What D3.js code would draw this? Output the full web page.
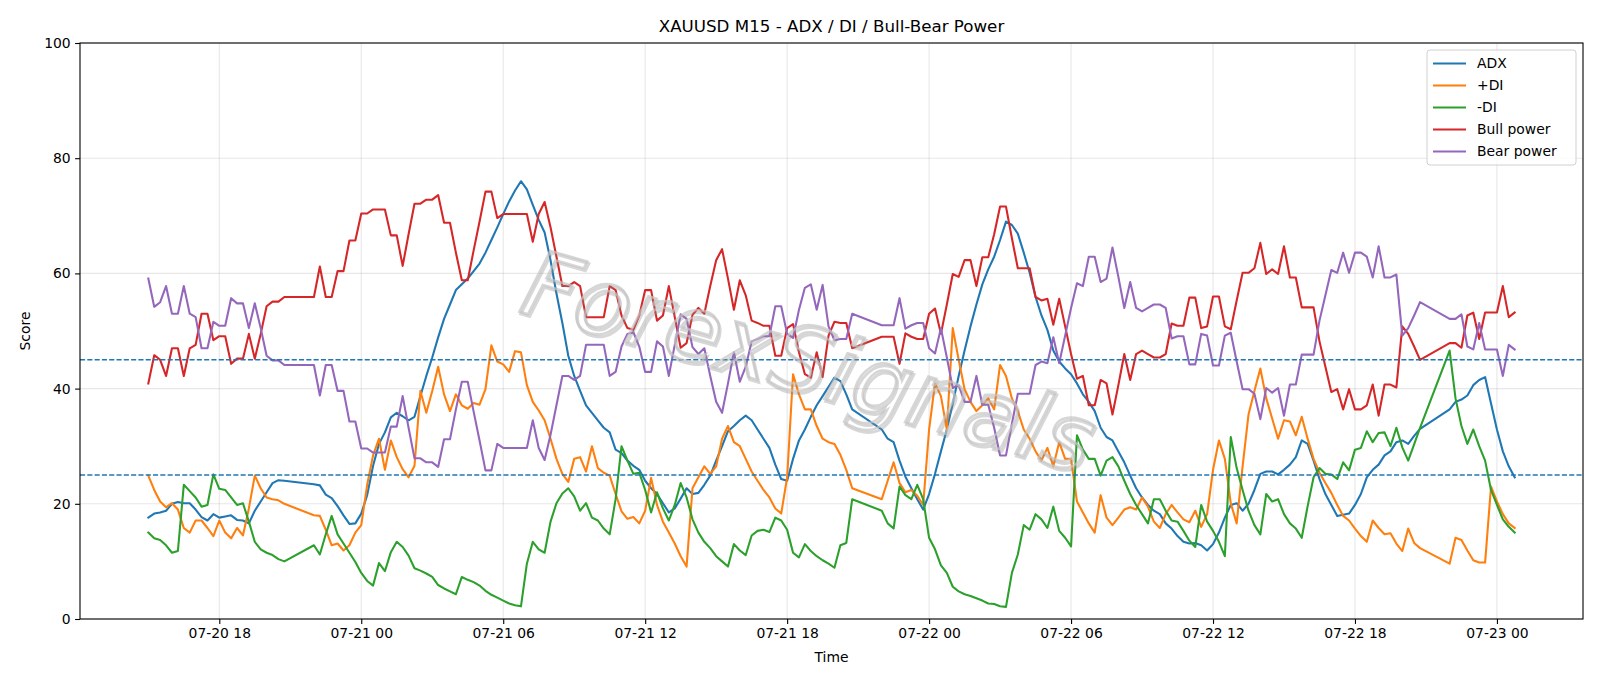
<!DOCTYPE html>
<html>
<head>
<meta charset="utf-8">
<title>XAUUSD M15 - ADX / DI / Bull-Bear Power</title>
<script src="https://cdn.jsdelivr.net/npm/d3@7"></script>
<style>
    body { margin: 0; background: #fff; }
    svg { display: block; font-family: "DejaVu Sans", sans-serif; }
    .grid line { stroke: #b0b0b0; stroke-opacity: 0.3; stroke-width: 1.1; }
    .axis text { font-size: 13.9px; fill: #000; font-family: "DejaVu Sans", sans-serif; }
    .axis line { stroke: #000; stroke-width: 1.1; }
    .axis path { display: none; }
    .series { fill: none; stroke-width: 2.08; stroke-linejoin: round; stroke-linecap: square; }
</style>
</head>
<body>
<div id="chart"></div>
<script>
'use strict';

// 15 minute bars starting 2025-07-20 15:00, null = bar missing from the feed
const startTime = new Date(2025, 6, 20, 15, 0);
const barMinutes = 15;

const seriesNames = ['ADX', '+DI', '-DI', 'Bull power', 'Bear power'];
const levels = [45, 25];
const yTicks = [0, 20, 40, 60, 80, 100];

const adx = [
    17.6, 18.3, 18.5, 18.8, 20.0, 20.3, 20.1, 20.1, 19.0, 17.7,
    17.1, 18.2, 17.6, 17.8, 18.0, 17.2, 17.1, 16.6, 18.8, 20.4,
    22.0, 23.6, 24.1, 24.0, null, null, null, null, 23.4, 23.2,
    21.6, 21.0, 19.6, 18.0, 16.5, 16.6, 18.3, 21.5, 26.6, 30.4,
    32.4, 35.0, 35.8, 35.2, 34.5, 35.1, 38.7, 42.2, 45.4, 48.9,
    52.1, 54.6, 57.1, 58.1, 59.1, 60.4, 61.7, 63.6, 65.8, 68.0,
    70.3, 72.5, 74.4, 76.0, 74.6, 71.9, 69.3, 67.1, 62.3, 56.5,
    51.4, 45.7, 42.2, 39.6, 37.1, 35.8, 34.5, 33.2, 32.4, 29.4,
    28.8, 27.5, 26.6, 25.9, 24.0, 22.7, 21.7, 20.1, 18.5, 19.2,
    20.9, 22.7, 21.7, 21.9, 23.3, 24.9, 27.5, 30.0, 32.6, 33.5,
    34.5, 35.3, 34.5, 32.9, 31.3, 29.7, 26.8, 24.3, 24.0, 27.8,
    31.0, 32.9, 35.1, 37.1, 38.7, 40.3, 41.9, 41.3, 39.0, 36.4,
    null, null, null, null, 32.9, 31.3, 30.7, 27.5, 24.7, 22.7,
    20.8, 19.0, 21.7, 25.2, 29.1, 32.9, 37.4, 42.2, 46.6, 50.8,
    54.6, 58.1, 60.7, 62.9, 65.8, 69.0, 68.4, 66.9, 63.6, 60.1,
    55.9, 52.7, 50.2, 46.6, 44.7, 43.5, 42.5, 40.9, 39.0, 37.7,
    36.1, 33.2, 31.6, 31.0, 29.1, 27.2, 24.9, 22.7, 21.1, 19.8,
    18.8, 18.2, 16.6, 15.7, 14.4, 13.4, 13.1, 13.2, 12.8, 11.9,
    13.0, 15.0, 17.6, 19.8, 20.1, 18.8, 20.0, 22.4, 25.2, 25.6,
    25.6, 25.1, 25.9, 26.8, 28.1, 31.0, 30.4, 27.5, 24.3, 21.7,
    19.8, 17.9, 18.1, 18.3, 19.8, 21.7, 24.6, 25.9, 26.8, 28.4,
    29.1, 30.7, 31.0, 30.4, 31.8, 33.0, null, null, null, null,
    36.4, 37.7, 38.1, 38.8, 40.6, 41.5, 42.0, 37.4, 32.9, 29.1,
    26.5, 24.6
];

const plusDI = [
    24.9, 22.4, 20.4, 19.4, 20.1, 19.0, 15.8, 15.0, 17.1, 17.1,
    15.8, 14.4, 17.1, 15.0, 14.0, 15.8, 14.5, 19.2, 24.9, 22.7,
    21.1, 20.8, 20.6, 20.0, null, null, null, null, 18.0, 17.9,
    15.5, 12.8, 13.1, 11.9, 12.8, 15.0, 16.3, 23.3, 28.4, 31.3,
    25.9, 31.0, 28.1, 26.0, 24.6, 26.6, 39.6, 35.8, 39.6, 43.8,
    39.0, 36.1, 39.0, 37.1, 36.5, 37.5, 37.2, 39.9, 47.5, 44.7,
    44.2, 42.9, 46.5, 46.3, 40.6, 37.7, 36.2, 34.5, 31.3, 27.8,
    25.2, 23.8, 27.8, 28.1, 25.6, 30.0, 26.2, 25.4, 24.9, 21.7,
    18.7, 17.4, 17.7, 16.6, 18.8, 24.5, 19.8, 16.9, 15.0, 13.1,
    10.9, 9.1, 22.7, 24.6, 26.5, 25.2, 26.5, 31.3, 33.5, 30.7,
    30.0, 27.8, 25.6, 24.0, 22.4, 21.1, 19.2, 18.3, 24.6, 42.5,
    39.0, 36.4, 36.4, 33.5, 31.3, 30.7, 30.4, 28.5, 25.9, 22.7,
    null, null, null, null, 20.8, 24.0, 27.2, 23.6, 22.0, 22.4,
    21.4, 19.8, 32.9, 40.9, 38.7, 32.9, 50.5, 45.0, 39.9, 37.7,
    36.1, 37.1, 38.3, 36.4, 44.1, 42.2, 38.3, 36.1, 32.9, 31.3,
    29.1, 27.5, 29.7, 26.5, 30.7, 27.8, 27.8, 20.4, 18.5, 16.6,
    15.0, 21.5, 17.6, 16.3, 17.6, 19.0, 19.4, 19.0, 21.1, 19.5,
    16.9, 15.8, 18.2, 19.8, 18.5, 17.3, 16.8, 18.8, 16.0, 18.2,
    25.9, 31.0, 27.8, 20.1, 16.6, 26.5, 35.5, 39.6, 43.5, 38.3,
    34.8, 31.3, 34.5, 34.3, 31.9, 35.1, 31.3, 27.8, 25.4, 23.6,
    21.9, 19.8, 17.9, 17.1, 15.7, 14.4, 13.4, 17.1, 15.8, 14.7,
    14.9, 13.1, 11.8, 15.7, 13.2, 12.3, null, null, null, null,
    9.6, 14.1, 13.7, 11.9, 10.2, 9.8, 9.8, 23.0, 20.4, 18.2,
    16.6, 15.8
];

const minusDI = [
    15.0, 14.0, 13.7, 12.8, 11.5, 11.8, 23.3, 22.2, 21.1, 19.5,
    19.8, 25.1, 22.6, 22.4, 21.1, 19.8, 20.1, 16.9, 13.4, 12.1,
    11.5, 11.1, 10.4, 10.0, null, null, null, null, 12.8, 11.2,
    14.7, 17.9, 14.7, 13.1, 11.5, 9.9, 8.0, 6.6, 5.8, 9.7,
    8.3, 11.6, 13.4, 12.5, 11.0, 8.8, 8.4, 7.9, 7.3, 5.9,
    5.3, 4.8, 4.3, 7.3, 6.8, 6.4, 5.8, 4.9, 4.2, 3.7,
    3.2, 2.7, 2.4, 2.2, 9.6, 13.4, 12.1, 11.5, 16.9, 20.1,
    21.8, 22.7, 21.3, 18.8, 20.1, 17.6, 17.1, 15.7, 14.7, 20.8,
    30.0, 27.5, 25.2, 25.4, 22.4, 18.5, 22.0, 19.2, 17.1, 19.8,
    23.6, 21.1, 17.3, 15.0, 13.4, 12.3, 10.9, 10.0, 9.1, 13.0,
    11.9, 11.1, 14.5, 15.3, 15.5, 15.1, 17.6, 17.1, 15.5, 11.5,
    10.7, 13.0, 11.8, 10.9, 10.2, 9.6, 8.9, 12.8, 13.2, 20.8,
    null, null, null, null, 18.8, 16.6, 15.7, 23.0, 21.5, 20.8,
    23.3, 20.8, 14.1, 12.1, 9.3, 8.0, 5.6, 4.8, 4.3, 4.0,
    3.6, 3.2, 2.7, 2.6, 2.2, 2.1, 8.0, 11.2, 16.3, 15.5,
    18.2, 17.3, 15.8, 19.5, 15.3, 14.1, 12.6, 31.9, 29.4, 27.8,
    27.8, 24.9, 27.5, 28.1, 26.5, 24.0, 21.7, 19.8, 18.2, 16.6,
    20.8, 20.8, 18.8, 17.1, 16.9, 15.3, 13.6, 12.5, 19.8, 16.9,
    15.3, 13.4, 10.9, 31.6, 26.2, 22.4, 18.8, 16.3, 14.7, 21.7,
    20.4, 20.8, 18.2, 16.6, 15.7, 14.1, 19.6, 24.6, 26.2, 25.2,
    25.1, 24.3, 27.2, 25.8, 29.4, 29.7, 32.6, 30.7, 32.3, 32.4,
    30.0, 33.2, 29.8, 27.5, 30.3, 33.2, null, null, null, null,
    46.6, 38.3, 33.5, 30.4, 32.9, 30.0, 27.5, 22.4, 19.8, 17.3,
    16.0, 15.0
];

const bullPower = [
    40.9, 45.8, 45.0, 42.2, 47.0, 47.0, 42.2, 47.0, 47.6, 53.0,
    53.0, 48.4, 49.1, 49.1, 44.3, 45.2, 45.2, 49.5, 45.2, 49.5,
    54.3, 55.1, 55.1, 55.9, null, null, null, null, 55.9, 61.2,
    55.9, 55.9, 60.4, 60.4, 65.7, 65.7, 70.4, 70.4, 71.1, 71.1,
    71.1, 66.6, 66.6, 61.3, 66.8, 72.1, 72.1, 72.8, 72.8, 73.6,
    68.8, 68.8, 63.6, 58.8, 58.8, 64.0, 69.0, 74.2, 74.2, 69.6,
    70.3, 70.3, 70.3, 70.3, 70.3, 65.5, 70.3, 72.4, 68.0, 62.9,
    57.8, 57.8, 58.5, 57.8, 52.4, 52.4, 52.4, 52.4, 57.8, 57.1,
    52.7, 50.5, 50.2, 52.7, 57.1, 57.1, 51.8, 52.7, 57.8, 52.4,
    47.1, 47.9, 52.8, 54.0, 53.0, 57.8, 62.3, 64.2, 59.1, 53.7,
    58.8, 56.2, 51.8, 51.4, 50.9, 50.9, 45.7, 45.7, 50.5, 51.2,
    46.3, 42.5, 41.9, 46.3, 42.0, 49.2, 51.6, 51.4, 51.4, 47.0,
    null, null, null, null, 49.0, 49.0, 49.0, 44.3, 49.6, 49.0,
    48.6, 48.6, 53.0, 53.9, 49.5, 54.6, 59.9, 59.4, 62.3, 62.3,
    57.8, 62.8, 62.8, 66.8, 71.6, 71.6, 66.1, 60.9, 60.9, 60.9,
    55.9, 55.3, 55.6, 51.1, 55.6, 50.8, 46.0, 41.7, 42.2, 37.1,
    37.1, 41.5, 40.9, 35.5, 40.6, 46.0, 41.5, 46.0, 46.6, 46.0,
    45.4, 45.4, 46.0, 51.3, 50.9, 50.9, 55.8, 55.8, 50.5, 50.8,
    56.0, 56.0, 50.8, 50.3, 55.3, 60.1, 60.1, 60.9, 65.3, 59.9,
    60.7, 59.9, 64.7, 59.3, 59.3, 54.1, 54.1, 54.1, 48.2, 43.8,
    39.4, 39.9, 36.4, 39.9, 36.4, 36.4, 37.1, 40.7, 35.3, 40.7,
    40.7, 40.2, 50.8, 49.5, 47.3, 45.0, null, null, null, null,
    47.9, 47.9, 47.1, 52.7, 53.2, 48.6, 53.2, 53.2, 53.2, 57.8,
    52.4, 53.2
];

const bearPower = [
    59.1, 54.2, 55.0, 57.8, 53.0, 53.0, 57.8, 53.0, 52.4, 47.0,
    47.0, 51.6, 50.9, 50.9, 55.7, 54.8, 54.8, 50.5, 54.8, 50.5,
    45.7, 44.9, 44.9, 44.1, null, null, null, null, 44.1, 38.8,
    44.1, 44.1, 39.6, 39.6, 34.3, 34.3, 29.6, 29.6, 28.9, 28.9,
    28.9, 33.4, 33.4, 38.7, 33.2, 27.9, 27.9, 27.2, 27.2, 26.4,
    31.2, 31.2, 36.4, 41.2, 41.2, 36.0, 31.0, 25.8, 25.8, 30.4,
    29.7, 29.7, 29.7, 29.7, 29.7, 34.5, 29.7, 27.6, 32.0, 37.1,
    42.2, 42.2, 41.5, 42.2, 47.6, 47.6, 47.6, 47.6, 42.2, 42.9,
    47.3, 49.5, 49.8, 47.3, 42.9, 42.9, 48.2, 47.3, 42.2, 47.6,
    52.9, 52.1, 47.2, 46.0, 47.0, 42.2, 37.7, 35.8, 40.9, 46.3,
    41.2, 43.8, 48.2, 48.6, 49.1, 49.1, 54.3, 54.3, 49.5, 48.8,
    53.7, 57.5, 58.1, 53.7, 58.0, 50.8, 48.4, 48.6, 48.6, 53.0,
    null, null, null, null, 51.0, 51.0, 51.0, 55.7, 50.4, 51.0,
    51.4, 51.4, 47.0, 46.1, 50.5, 45.4, 40.1, 40.6, 37.7, 37.7,
    42.2, 37.2, 37.2, 33.2, 28.4, 28.4, 33.9, 39.1, 39.1, 39.1,
    44.1, 44.7, 44.4, 48.9, 44.4, 49.2, 54.0, 58.3, 57.8, 62.9,
    62.9, 58.5, 59.1, 64.5, 59.4, 54.0, 58.5, 54.0, 53.4, 54.0,
    54.6, 54.6, 54.0, 48.7, 49.1, 49.1, 44.2, 44.2, 49.5, 49.2,
    44.0, 44.0, 49.2, 49.7, 44.7, 39.9, 39.9, 39.1, 34.7, 40.1,
    39.3, 40.1, 35.3, 40.7, 40.7, 45.9, 45.9, 45.9, 51.8, 56.2,
    60.6, 60.1, 63.6, 60.1, 63.6, 63.6, 62.9, 59.3, 64.7, 59.3,
    59.3, 59.8, 49.2, 50.5, 52.7, 55.0, null, null, null, null,
    52.1, 52.1, 52.9, 47.3, 46.8, 51.4, 46.8, 46.8, 46.8, 42.2,
    47.6, 46.8
];

const seriesValues = [adx, plusDI, minusDI, bullPower, bearPower];
const seriesColors = ['#1f77b4', '#ff7f0e', '#2ca02c', '#d62728', '#9467bd'];


// Figure and axes box (pixels)
const svg_width = 1600, svg_height = 686;
const margin = {top: 43, right: 17, bottom: 67, left: 80};
const chart_width = svg_width - margin.left - margin.right;
const chart_height = svg_height - margin.top - margin.bottom;

const times = adx.map((_, i) => d3.timeMinute.offset(startTime, i * barMinutes));

const svg = d3.select('#chart')
    .append('svg')
    .attr('width', svg_width)
    .attr('height', svg_height);

const chart = svg.append('g')
    .attr('transform', `translate(${margin.left},${margin.top})`);


// scales, 5% padding each side on x like matplotlib
const t0 = times[0], t1 = times[times.length - 1];
const pad = (t1 - t0) * 0.05;
const scale_x = d3.scaleTime()
    .domain([new Date(+t0 - pad), new Date(+t1 + pad)])
    .range([0, chart_width]);
const scale_y = d3.scaleLinear()
    .domain([0, 100])
    .range([chart_height, 0]);

const xTicks = scale_x.ticks(d3.timeHour.every(6));


// grid
chart.append('g').attr('class', 'grid')
    .selectAll('line.gx')
    .data(xTicks)
    .join('line')
    .attr('x1', d => scale_x(d)).attr('x2', d => scale_x(d))
    .attr('y1', 0).attr('y2', chart_height);

chart.append('g').attr('class', 'grid')
    .selectAll('line.gy')
    .data(yTicks)
    .join('line')
    .attr('x1', 0).attr('x2', chart_width)
    .attr('y1', d => scale_y(d)).attr('y2', d => scale_y(d));


// series lines, missing bars are skipped so the line joins across the gap
const line = d3.line()
    .x(d => scale_x(d.t))
    .y(d => scale_y(d.v));

seriesValues.forEach((values, k) => {
    const pts = values
        .map((v, i) => ({t: times[i], v: v}))
        .filter(d => d.v !== null);
    chart.append('path')
        .datum(pts)
        .attr('class', 'series')
        .attr('stroke', seriesColors[k])
        .attr('d', line);
});


// reference levels
chart.selectAll('line.level')
    .data(levels)
    .join('line')
    .attr('class', 'level')
    .attr('x1', 0).attr('x2', chart_width)
    .attr('y1', d => scale_y(d)).attr('y2', d => scale_y(d))
    .attr('stroke', '#1f77b4')
    .attr('stroke-width', 1.39)
    .attr('stroke-dasharray', '5.1,2.2');


// watermark (hollow letters with a soft shadow)
const mark = svg.append('g')
    .attr('transform', 'translate(800,392) rotate(16)')
    .style('font-family', '"DejaVu Sans", sans-serif')
    .style('font-style', 'italic')
    .style('font-size', '92px')
    .attr('text-anchor', 'middle');

mark.append('text')
    .attr('x', 2).attr('y', 2)
    .attr('fill', 'none')
    .attr('stroke', '#8c8c8c')
    .attr('stroke-opacity', 0.35)
    .attr('stroke-width', 3)
    .text('ForexSignals');

mark.append('text')
    .attr('fill', 'none')
    .attr('stroke', '#c4c4c4')
    .attr('stroke-opacity', 0.7)
    .attr('stroke-width', 2.5)
    .text('ForexSignals');


// axes
chart.append('g')
    .attr('class', 'axis')
    .attr('transform', `translate(0,${chart_height})`)
    .call(d3.axisBottom(scale_x)
        .tickValues(xTicks)
        .tickFormat(d3.timeFormat('%m-%d %H'))
        .tickSize(4.9).tickPadding(4.4).tickSizeOuter(0));

chart.append('g')
    .attr('class', 'axis')
    .call(d3.axisLeft(scale_y)
        .tickValues(yTicks)
        .tickSize(4.9).tickPadding(4.4).tickSizeOuter(0));

// spines
chart.append('rect')
    .attr('width', chart_width).attr('height', chart_height)
    .attr('fill', 'none')
    .attr('stroke', '#000')
    .attr('stroke-width', 1.1);


// titles
svg.append('text')
    .attr('x', margin.left + chart_width / 2)
    .attr('y', 32)
    .attr('text-anchor', 'middle')
    .style('font-size', '16.7px')
    .text('XAUUSD M15 - ADX / DI / Bull-Bear Power');

svg.append('text')
    .attr('x', margin.left + chart_width / 2)
    .attr('y', 662)
    .attr('text-anchor', 'middle')
    .style('font-size', '13.9px')
    .text('Time');

svg.append('text')
    .attr('transform', `translate(30,${margin.top + chart_height / 2}) rotate(-90)`)
    .attr('text-anchor', 'middle')
    .style('font-size', '13.9px')
    .text('Score');


// legend, upper right
const legend = svg.append('g')
    .attr('transform', `translate(${margin.left + chart_width - 7 - 149},${margin.top + 7})`);

legend.append('rect')
    .attr('width', 149).attr('height', 115)
    .attr('rx', 3).attr('ry', 3)
    .attr('fill', '#fff').attr('fill-opacity', 0.8)
    .attr('stroke', '#d0d0d0');

const rows = legend.selectAll('g.row')
    .data(seriesNames)
    .join('g')
    .attr('class', 'row')
    .attr('transform', (d, i) => `translate(0,${13.5 + i * 22})`);

rows.append('line')
    .attr('x1', 6).attr('x2', 39)
    .attr('stroke', (d, i) => seriesColors[i])
    .attr('stroke-width', 2.08);

rows.append('text')
    .attr('x', 50)
    .attr('dy', '0.35em')
    .style('font-size', '13.9px')
    .text(d => d);
</script>
</body>
</html>
